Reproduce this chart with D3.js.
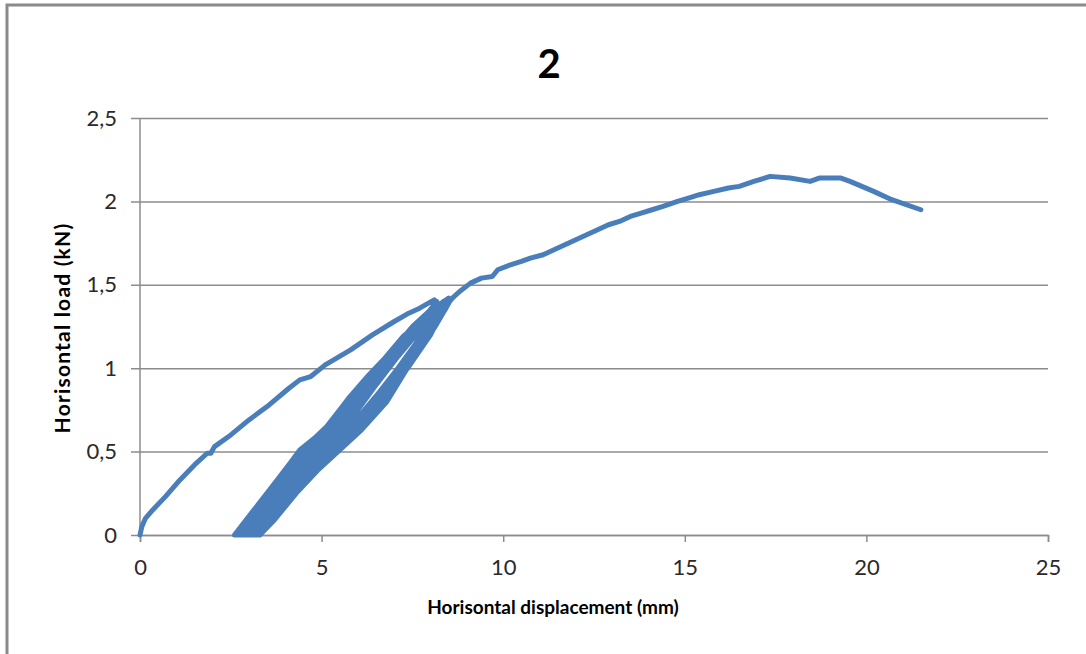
<!DOCTYPE html>
<html>
<head>
<meta charset="utf-8">
<script src="https://cdn.jsdelivr.net/npm/d3@7"></script>
<style>
  html, body { margin: 0; padding: 0; background: #fff; }
  svg { display: block; }
  text { font-family: Lato, "Open Sans", sans-serif; }
</style>
</head>
<body>
<svg id="chart" width="1086" height="654"></svg>
<script>
// ---------- data ----------
const title = "2";
const xLabel = "Horisontal displacement (mm)";
const yLabel = "Horisontal load (kN)";
const xTicks = [0, 5, 10, 15, 20, 25];
const yTicks = [0, 0.5, 1, 1.5, 2, 2.5];

// initial loading branch
const envelopeStart = [
  [0,0],[0.05,0.05],[0.15,0.1],[0.35,0.15],[0.7,0.23],[1.1,0.33],[1.5,0.42],[1.85,0.49],[1.95,0.49],
  [2.05,0.53],[2.5,0.6],[3.0,0.69],[3.5,0.77],[4.1,0.88],[4.4,0.93],[4.7,0.95],[5.1,1.02],[5.8,1.11],
  [6.4,1.2],[7.0,1.28],[7.4,1.33],[7.7,1.36],[8.1,1.41]
];
// unloading / reloading cycles
const cycle1 = [
  [8.2,1.36],[7.9,1.22],[7.5,1.05],[6.8,0.8],[6.1,0.63],[5.6,0.53],[5.0,0.41],[4.4,0.29],[3.8,0.14],[3.3,0],
  [2.6,0],[3.1,0.14],[3.6,0.28],[4.13,0.43],[4.4,0.51],[4.8,0.58],[5.14,0.65],[5.5,0.75],[5.78,0.83],
  [6.3,0.96],[6.7,1.05],[7.24,1.19],[7.7,1.27],[8.17,1.4]
];
const cycle2 = [
  [8.3,1.33],[8.0,1.2],[7.4,1.01],[6.7,0.8],[6.0,0.63],[5.4,0.5],[4.8,0.37],[4.2,0.23],[3.6,0.08],[3.25,0],
  [2.75,0],[3.3,0.16],[3.9,0.33],[4.5,0.49],[5.0,0.6],[5.5,0.72],[6.0,0.85],[6.5,0.98],[7.0,1.1],[7.5,1.23],[8.0,1.33],[8.35,1.4]
];
const cycle3 = [
  [8.2,1.32],[7.8,1.17],[7.2,0.98],[6.6,0.8],[5.9,0.64],[5.3,0.52],[4.6,0.36],[4.0,0.2],[3.5,0.07],[3.2,0],
  [2.85,0],[3.4,0.15],[4.0,0.31],[4.6,0.46],[5.1,0.56],[5.6,0.67],[6.2,0.83],[6.8,1.0],[7.3,1.14],[7.8,1.27],[8.4,1.4]
];
const cycle4 = [
  [8.3,1.34],[7.9,1.2],[7.3,1.0],[6.7,0.82],[6.1,0.66],[5.5,0.55],[4.8,0.4],[4.2,0.25],[3.6,0.09],[3.3,0],
  [2.95,0],[3.5,0.15],[4.1,0.31],[4.7,0.45],[5.3,0.58],[5.9,0.72],[6.5,0.9],[7.1,1.07],[7.6,1.2],[8.0,1.3],[8.45,1.41]
];
const cycle5 = [
  [8.1,1.32],[7.6,1.15],[7.0,0.95],[6.4,0.78],[5.8,0.63],[5.2,0.5],[4.6,0.37],[4.0,0.21],[3.4,0.05],[3.15,0],
  [2.7,0],[3.2,0.14],[3.8,0.3],[4.3,0.45],[4.8,0.55],[5.3,0.66],[5.9,0.82],[6.4,0.96],[7.0,1.12],[7.5,1.25],[8.0,1.35],[8.5,1.41]
];
const cycle6 = [
  [8.2,1.33],[7.7,1.16],[7.1,0.97],[6.5,0.8],[5.8,0.62],[5.1,0.47],[4.5,0.34],[3.9,0.19],[3.4,0.06],[3.1,0],
  [3.0,0],[3.6,0.16],[4.2,0.3],[4.9,0.46],[5.5,0.59],[6.1,0.73],[6.6,0.86],[7.1,1.0],[7.6,1.15],[8.1,1.3],[8.55,1.41]
];
const cycle7 = [
  [8.4,1.35],[8.0,1.22],[7.4,1.03],[6.9,0.88],[6.3,0.71],[5.7,0.57],[5.0,0.42],[4.3,0.26],[3.7,0.1],[3.3,0],
  [2.8,0],[3.3,0.13],[4.0,0.32],[4.6,0.48],[5.2,0.6],[5.8,0.76],[6.4,0.93],[7.0,1.09],[7.5,1.22],[8.1,1.36],[8.5,1.42]
];
const cycle8 = [
  [8.45,1.37],[8.1,1.24],[7.5,1.05],[6.9,0.85],[6.2,0.66],[5.6,0.53],[4.9,0.39],[4.3,0.25],[3.7,0.09],[3.3,0],
  [3.1,0],[3.7,0.15],[4.4,0.32],[5.0,0.45],[5.7,0.6],[6.3,0.75],[6.9,0.92],[7.4,1.08],[7.9,1.24],[8.3,1.34],[8.6,1.42]
];
// continued loading to failure
const envelopeEnd = [
  [8.8,1.46],[9.1,1.51],[9.4,1.54],[9.7,1.55],[9.85,1.59],[10.2,1.62],[10.5,1.64],[10.75,1.66],[11.1,1.68],
  [11.4,1.71],[11.7,1.74],[12.0,1.77],[12.3,1.8],[12.6,1.83],[12.9,1.86],[13.2,1.88],[13.5,1.91],[13.8,1.93],
  [14.1,1.95],[14.4,1.97],[14.8,2.0],[15.1,2.02],[15.4,2.04],[15.8,2.06],[16.2,2.08],[16.5,2.09],[16.9,2.12],
  [17.35,2.15],[17.9,2.14],[18.45,2.12],[18.7,2.14],[19.3,2.14],[19.55,2.12],[20.2,2.06],[20.7,2.01],[21.5,1.95]
];

const series = [].concat(envelopeStart, cycle1, cycle2, cycle3, cycle4, cycle5, cycle6, cycle7, cycle8, envelopeEnd);

// ---------- drawing ----------
const svg = d3.select("#chart");
const W = 1086, H = 654;
const m = { left: 140, right: 1048, top: 118, bottom: 535 };

// outer frame
svg.append("rect").attr("x", 7).attr("y", 5).attr("width", W + 20).attr("height", H + 20)
  .attr("fill", "#fff").attr("stroke", "#8a8a8a").attr("stroke-width", 3);

const x = d3.scaleLinear().domain([0, 25]).range([m.left, m.right]);
const y = d3.scaleLinear().domain([0, 2.5]).range([m.bottom, m.top]);
const fmt = d => String(d).replace(".", ",");
const gridColor = "#8c8c8c";

// horizontal gridlines + y ticks
const gy = svg.append("g").attr("transform", `translate(${m.left},0)`)
  .call(d3.axisLeft(y).tickValues(yTicks).tickFormat(fmt).tickSize(-(m.right - m.left)).tickPadding(23));
gy.select(".domain").remove();
gy.selectAll(".tick line").attr("stroke", gridColor).attr("stroke-width", 1.5).attr("x1", -9);
gy.selectAll(".tick text").attr("font-size", 22).attr("fill", "#2a2a2a");

// y axis line
svg.append("line").attr("x1", m.left).attr("x2", m.left).attr("y1", m.top).attr("y2", m.bottom)
  .attr("stroke", gridColor).attr("stroke-width", 1.5);

// x axis
const gx = svg.append("g").attr("transform", `translate(0,${m.bottom})`)
  .call(d3.axisBottom(x).tickValues(xTicks).tickFormat(fmt).tickSize(7).tickPadding(17));
gx.select(".domain").attr("stroke", gridColor).attr("stroke-width", 1.5);
gx.selectAll(".tick line").attr("stroke", gridColor).attr("stroke-width", 1.5);
gx.selectAll(".tick text").attr("font-size", 22).attr("fill", "#2a2a2a");

// data line
const line = d3.line().x(d => x(d[0])).y(d => y(d[1]));
svg.append("path").datum(series).attr("d", line)
  .attr("fill", "none").attr("stroke", "#4a7ebb").attr("stroke-width", 5)
  .attr("stroke-linejoin", "round").attr("stroke-linecap", "round");

// title
svg.append("text").attr("x", 549).attr("y", 78).attr("text-anchor", "middle")
  .attr("font-size", 40).attr("font-weight", "bold").attr("fill", "#000").text(title);

// axis titles
svg.append("text").attr("x", 553).attr("y", 614).attr("text-anchor", "middle")
  .attr("font-size", 19).attr("font-weight", "bold").attr("fill", "#000").text(xLabel);
svg.append("text").attr("transform", "translate(70,328) rotate(-90)").attr("text-anchor", "middle")
  .attr("font-size", 21).attr("font-weight", "bold").attr("letter-spacing", 1.2).attr("fill", "#000").text(yLabel);
</script>
</body>
</html>
